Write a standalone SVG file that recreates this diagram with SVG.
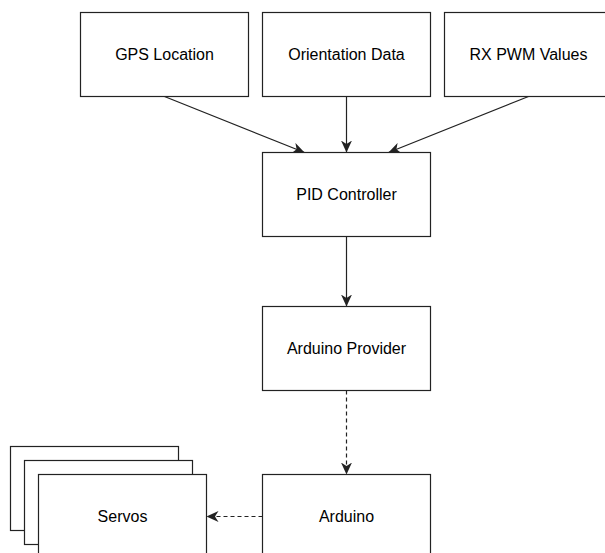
<svg xmlns="http://www.w3.org/2000/svg" width="605" height="553" viewBox="0 0 605 553">
<style>
rect{fill:#fff;stroke:#222;stroke-width:1.2}
text{font-family:"Liberation Sans",Arial,Helvetica,sans-serif;font-size:16px;fill:#000;text-anchor:middle;dominant-baseline:central}
.e{fill:none;stroke:#222;stroke-width:1.2}
.d{stroke-dasharray:4 3}
</style>
<defs>
<marker id="a" viewBox="0 0 12 11" refX="12" refY="5.5" markerWidth="12" markerHeight="11" markerUnits="userSpaceOnUse" orient="auto">
<path d="M0,0 L12,5.5 L0,11 L3.5,5.5 z" fill="#222"/>
</marker>
</defs>
<rect width="605" height="553" style="fill:#fff;stroke:none"/>
<g id="connectors">
<path class="e" d="M164.5,96.5 L304.5,152.5" marker-end="url(#a)"/>
<path class="e" d="M346.5,96.5 L346.5,152.5" marker-end="url(#a)"/>
<path class="e" d="M528.5,96.5 L388.5,152.5" marker-end="url(#a)"/>
<path class="e" d="M346.5,236.5 L346.5,306.5" marker-end="url(#a)"/>
<path class="e d" d="M346.5,390.5 L346.5,474.5" marker-end="url(#a)"/>
<path class="e d" d="M262.5,516.5 L206.5,516.5" marker-end="url(#a)"/>
</g>
<g id="gps"><rect x="80.5" y="12.5" width="168" height="84"/><text x="164.5" y="54.5">GPS Location</text></g>
<g id="orientation"><rect x="262.5" y="12.5" width="168" height="84"/><text x="346.5" y="54.5">Orientation Data</text></g>
<g id="rx"><rect x="444.5" y="12.5" width="168" height="84"/><text x="528.5" y="54.5">RX PWM Values</text></g>
<g id="pid"><rect x="262.5" y="152.5" width="168" height="84"/><text x="346.5" y="194.5">PID Controller</text></g>
<g id="provider"><rect x="262.5" y="306.5" width="168" height="84"/><text x="346.5" y="348.5">Arduino Provider</text></g>
<g id="arduino"><rect x="262.5" y="474.5" width="168" height="84"/><text x="346.5" y="516.5">Arduino</text></g>
<g id="servos">
<rect x="10.5" y="446.5" width="168" height="84"/>
<rect x="24.5" y="460.5" width="168" height="84"/>
<rect x="38.5" y="474.5" width="168" height="84"/>
<text x="122.5" y="516.5">Servos</text>
</g>
</svg>
